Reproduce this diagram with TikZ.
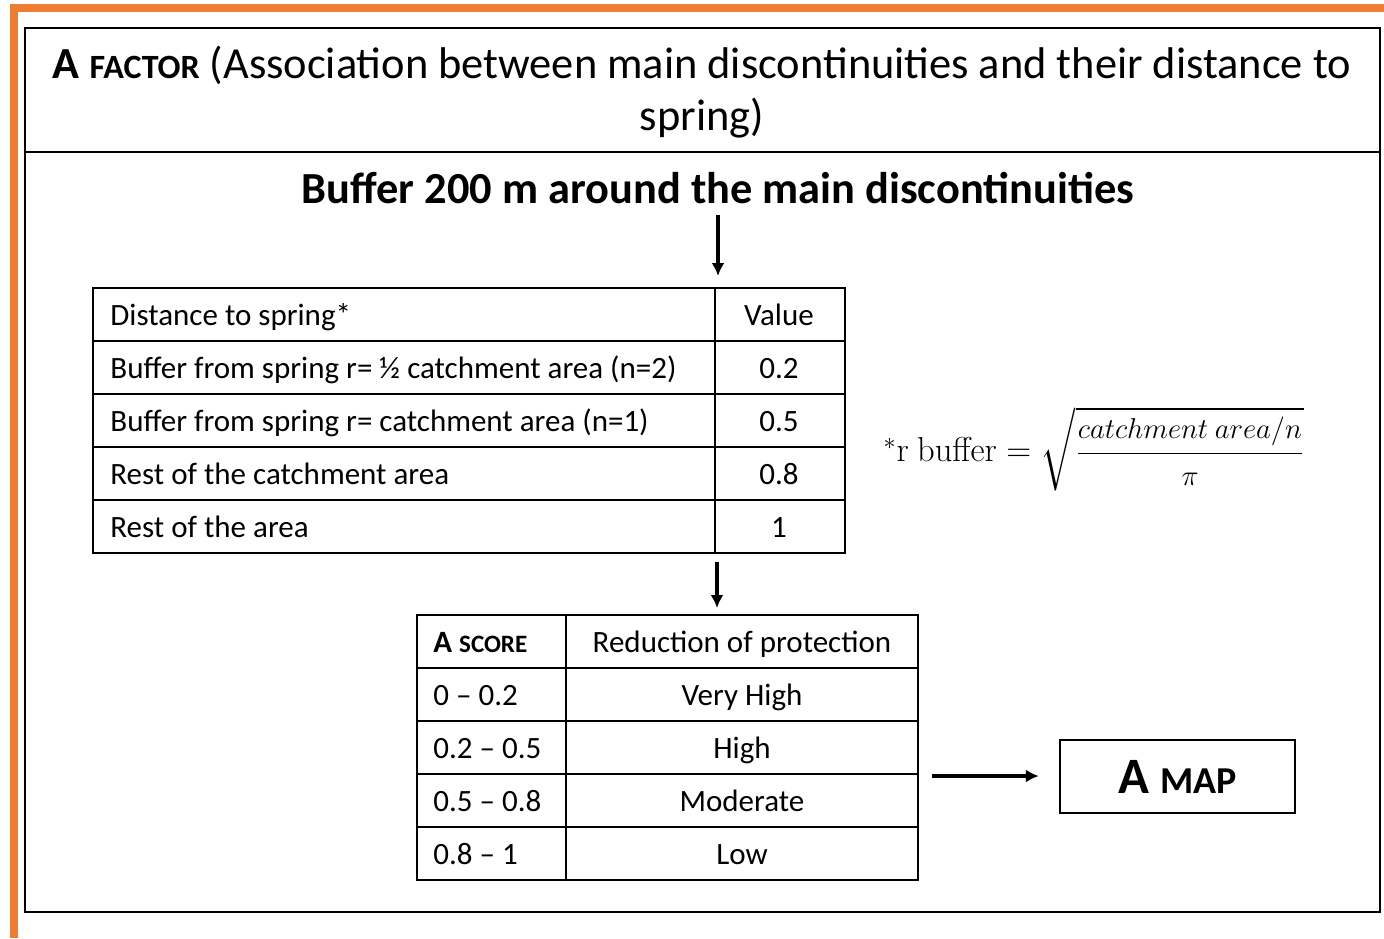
\documentclass[tikz,border=0pt]{standalone}
\usepackage[no-math]{fontspec}
\setmainfont{Carlito}
\usepackage{amsmath}
\usetikzlibrary{positioning,arrows.meta}
\definecolor{frameorange}{RGB}{237,125,49}
\newcommand*{\SmCap}[2]{{\fontsize{#1}{#1}\selectfont #2}}

\begin{document}
\begin{tikzpicture}[x=0.5pt,y=-0.5pt,>={Latex[length=6.5pt,width=6.5pt]},
    box/.style={line width=1.4pt},
    tab/.style={line width=1pt},
    txt/.style={font=\fontsize{15.5}{18}\selectfont, inner sep=0pt, text height=10.5pt, text depth=3pt},
    arr/.style={->,line width=1.7pt}]
    \useasboundingbox (0,0) rectangle (1384,938);
    % orange frame
    \fill[frameorange] (10,4) rectangle (1384,12);
    \fill[frameorange] (10,4) rectangle (18,938);
    % outer boxes
    \draw[box] (25,28) rectangle (1380,912);
    \draw[box] (25,152) -- (1380,152);
    \node[align=center, font=\fontsize{22.2}{26}\selectfont] (title) at (702,92)
      {{\bfseries A \SmCap{17}{FACTOR}} (Association between main discontinuities and their distance to\\ spring)};
    \node[font=\bfseries\fontsize{22.2}{26}\selectfont] (buf) at (718,188)
      {Buffer 200 m around the main discontinuities};
    % first table
    \draw[tab] (93,288) rectangle (845,553);
    \foreach \y in {341,394,447,500} \draw[tab] (93,\y) -- (845,\y);
    \draw[tab] (715,288) -- (715,553);
    \coordinate (t1top) at (717,288);
    \coordinate (t1bot) at (717,553);
    \foreach \t/\v [count=\i] in {Distance to spring*/Value,
        Buffer from spring r= ½ catchment area (n=2)/0.2,
        Buffer from spring r= catchment area (n=1)/0.5,
        Rest of the catchment area/0.8,
        Rest of the area/1}
      {
      \node[txt, anchor=west] (d\i) at (110,264.5+53*\i) {\t};
      \node[txt] (v\i) at (779,264.5+53*\i) {\v};
      }
    % formula
    \node[font=\fontsize{18.5}{21}\selectfont] (rbuf) at (1094,449)
      {$^{*}\mathrm{r\ buffer} = \sqrt{\dfrac{\mbox{\fontsize{15}{17}\selectfont$catchment\ area/n$}}{\mbox{\fontsize{15}{17}\selectfont$\pi$}}}$};
    % second table
    \draw[tab] (417,615) rectangle (918,880);
    \foreach \y in {668,721,774,827} \draw[tab] (417,\y) -- (918,\y);
    \draw[tab] (566,615) -- (566,880);
    \coordinate (t2top) at (717,615);
    \coordinate (t2right) at (918,776);
    \node[txt, anchor=west] (s0) at (433,644.5) {\bfseries A \SmCap{12.5}{SCORE}};
    \node[txt] (r0) at (742,644.5) {Reduction of protection};
    \foreach \s/\r [count=\i] in {0 -- 0.2/Very High, 0.2 -- 0.5/High,
        0.5 -- 0.8/Moderate, 0.8 -- 1/Low}
      {
      \node[txt, anchor=west] (s\i) at (433,644.5+53*\i) {\s};
      \node[txt] (r\i) at (742,644.5+53*\i) {\r};
      }
    % result
    \node[draw, line width=1.2pt, minimum width=117.5pt, minimum height=36.5pt,
      font=\bfseries\fontsize{25.5}{28}\selectfont] (amap) at (1177.5,776.5)
      {A \SmCap{19}{MAP}};
    % arrows
    \draw[arr, shorten <=2pt, shorten >=6pt] (buf.south) -- (buf.south |- t1top);
    \draw[arr, shorten <=4.5pt, shorten >=3.5pt] (t1bot) -- (t2top);
    \draw[arr, shorten <=7pt, shorten >=10pt] (t2right) -- (amap.west |- t2right);
\end{tikzpicture}
\end{document}
